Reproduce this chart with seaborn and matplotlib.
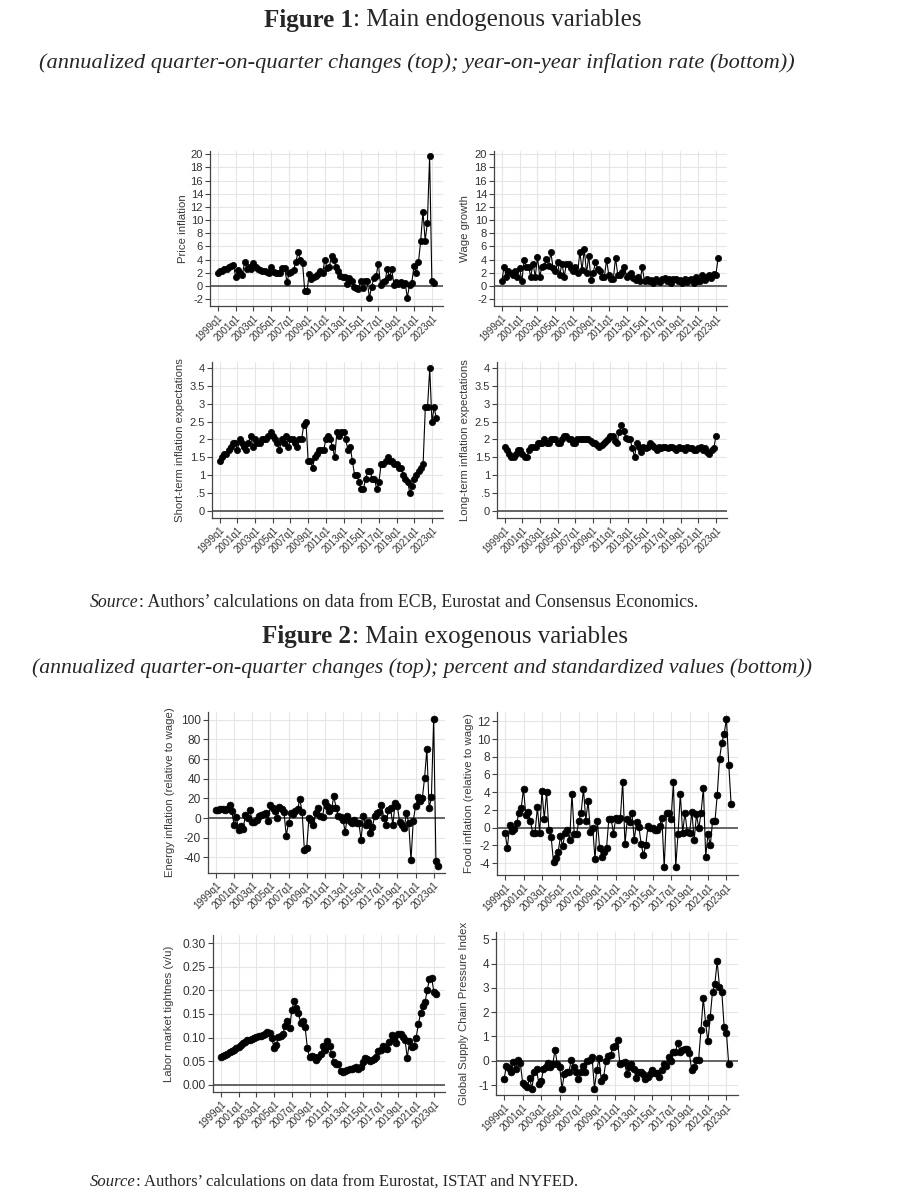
import numpy as np
import pandas as pd
import matplotlib
matplotlib.use("Agg")
import matplotlib.pyplot as plt
import seaborn as sns

# ---------------- data (quarterly, starting 1999q1) ----------------
tick_labels = ["1999q1", "2001q1", "2003q1", "2005q1", "2007q1", "2009q1", "2011q1",
               "2013q1", "2015q1", "2017q1", "2019q1", "2021q1", "2023q1"]

price_inflation = [
    2.0, 2.2, 2.3, 2.5, 2.6, 2.8, 3.0, 3.2,
    1.4, 2.4, 2.0, 1.6, 3.7, 2.6, 2.9, 2.6,
    3.5, 2.9, 2.6, 2.4, 2.3, 2.2, 2.1, 1.9,
    2.8, 2.1, 1.9, 1.9, 2.0, 2.7, 2.7, 0.6,
    1.9, 2.1, 2.4, 3.7, 5.1, 4.0, 3.5, -0.8,
    -0.8, 1.8, 1.0, 1.4, 1.5, 1.8, 2.3, 1.9,
    4.0, 2.7, 2.8, 4.6, 4.0, 2.9, 2.3, 1.5,
    1.4, 1.4, 0.3, 1.2, 0.8, -0.2, -0.3, -0.4,
    0.7, -0.3, 0.8, 0.7, -1.8, -0.1, 1.2, 1.5,
    3.4, 0.1, 0.6, 0.8, 2.5, 1.4, 2.5, 0.2,
    0.6, 0.3, 0.6, 0.2, 0.5, -1.8, 0.2, 0.5,
    3.0, 2.0, 3.6, 6.9, 11.3, 6.9, 9.6, 19.7,
    0.7, 0.4]

wage_growth = [
    0.7, 2.9, 1.4, 2.2, 2.0, 1.7, 2.2, 1.4,
    2.7, 0.7, 4.0, 2.9, 2.9, 1.4, 3.4, 1.4,
    4.4, 1.4, 2.9, 3.1, 4.1, 3.1, 5.1, 2.7,
    2.2, 3.6, 1.7, 3.4, 1.4, 3.4, 3.4, 2.7,
    2.2, 2.9, 1.9, 5.2, 2.4, 5.6, 1.9, 4.6,
    0.9, 2.0, 3.6, 2.6, 2.3, 1.4, 1.4, 4.0,
    1.6, 1.0, 1.0, 4.3, 1.7, 1.6, 2.1, 2.9,
    1.4, 1.6, 1.9, 1.2, 0.9, 1.3, 0.8, 2.8,
    0.7, 1.0, 0.7, 0.9, 0.5, 1.0, 0.8, 0.6,
    1.1, 1.2, 0.8, 1.1, 0.5, 1.0, 1.1, 0.7,
    0.9, 0.4, 1.0, 0.6, 0.9, 1.1, 0.5, 1.3,
    0.8, 0.7, 1.6, 0.9, 1.4, 1.6, 1.2, 1.8,
    1.7, 4.2]

short_term_exp = [
    1.4, 1.5, 1.6, 1.6, 1.7, 1.8, 1.9, 1.9,
    1.7, 2.0, 1.9, 1.8, 1.7, 1.9, 2.1, 1.8,
    2.0, 1.9, 1.9, 2.0, 2.0, 2.0, 2.1, 2.2,
    2.1, 2.0, 1.9, 1.7, 2.0, 1.9, 2.1, 1.8,
    2.0, 2.0, 1.9, 1.8, 2.0, 2.0, 2.4, 2.5,
    1.4, 1.4, 1.2, 1.5, 1.6, 1.7, 1.7, 1.7,
    2.0, 2.1, 2.0, 1.8, 1.5, 2.2, 2.1, 2.2,
    2.2, 2.0, 1.7, 1.8, 1.4, 1.0, 1.0, 0.8,
    0.6, 0.6, 0.9, 1.1, 1.1, 0.9, 0.9, 0.6,
    0.8, 1.3, 1.3, 1.4, 1.5, 1.4, 1.4, 1.3,
    1.3, 1.2, 1.2, 1.0, 0.9, 0.8, 0.5, 0.7,
    0.9, 1.0, 1.1, 1.2, 1.3, 2.9, 2.9, 4.0,
    2.5, 2.9, 2.6]

long_term_exp = [
    1.8, 1.7, 1.6, 1.5, 1.5, 1.6, 1.7, 1.7,
    1.6, 1.5, 1.5, 1.7, 1.8, 1.8, 1.8, 1.9,
    1.9, 1.9, 2.0, 1.9, 1.9, 2.0, 2.0, 2.0,
    1.9, 1.9, 2.0, 2.1, 2.1, 2.0, 2.0, 1.9,
    1.9, 2.0, 2.0, 2.0, 2.0, 2.0, 2.0, 1.95,
    1.9, 1.9, 1.85, 1.8, 1.85, 1.9, 1.95, 2.0,
    2.1, 2.1, 1.95, 1.9, 2.2, 2.4, 2.25, 2.05,
    2.0, 2.0, 1.75, 1.5, 1.9, 1.8, 1.65, 1.8,
    1.75, 1.8, 1.9, 1.85, 1.8, 1.7, 1.8, 1.75,
    1.8, 1.8, 1.75, 1.8, 1.8, 1.75, 1.7, 1.8,
    1.75, 1.75, 1.7, 1.8, 1.75, 1.75, 1.7, 1.7,
    1.75, 1.8, 1.7, 1.75, 1.65, 1.6, 1.7, 1.75,
    2.1]

energy_inflation = [
    8, 8, 9, 9, 8, 9, 13, 7,
    -7, 1, -12, -8, -11, 3, 0, 8,
    -4, -4, -2, 2, 3, 4, 5, -3,
    13, 10, 7, 0, 11, 9, 6, -18,
    -5, 5, 4, 7, 9, 19, 6, -33,
    -31, 0, -2, -7, 5, 10, 2, 1,
    16, 12, 7, 10, 22, 10, 2, 1,
    -2, -14, 2, -3, -5.5, -2, -5.5, -5,
    -22, 2, -7, -4, -15, -9, 2, 5,
    6, 13, 0, -7, 8, 10, -7, 15,
    12, -4, -7, -10, 5, -5, -43, -3,
    12, 21, 17, 20, 41, 70, 10, 21,
    101, -44, -49]

food_inflation = [
    -0.6, -2.3, 0.3, -0.4, -0.2, 0.5, 1.6, 2.2,
    4.4, 1.4, 1.8, 0.7, -0.6, -0.6, 2.3, -0.6,
    4.1, 1.0, 4.0, -0.3, -1.1, -3.9, -3.4, -2.8,
    -1.0, -2.1, -0.6, -0.3, -1.4, 3.8, -0.7, -0.7,
    0.8, 1.7, 4.4, 0.8, 3.0, -0.5, 0.0, -3.6,
    0.8, -2.3, -3.3, -2.8, -2.3, 1.0, 1.0, -0.7,
    1.1, 0.9, 1.1, 5.2, -1.9, 1.0, 0.6, 1.7,
    -1.4, 0.6, 0.1, -1.8, -3.1, -2.0, 0.2, 0.0,
    0.0, -0.3, -0.3, 0.2, 1.1, -4.5, 1.7, 1.7,
    1.0, 5.1, -4.4, -0.7, 3.8, -0.6, 1.7, -0.5,
    -0.6, 1.8, -1.4, 1.5, -0.1, 1.7, 4.5, -3.3,
    -0.7, -2.0, 0.8, 0.7, 3.7, 7.8, 9.6, 10.6,
    12.3, 7.1, 2.7]

labor_tightness = [
    0.060, 0.062, 0.064, 0.066, 0.069, 0.072, 0.074, 0.077,
    0.081, 0.085, 0.088, 0.091, 0.094, 0.096, 0.098, 0.100,
    0.102, 0.104, 0.103, 0.105, 0.108, 0.112, 0.110, 0.100,
    0.077, 0.085, 0.102, 0.103, 0.108, 0.125, 0.135, 0.120,
    0.158, 0.178, 0.162, 0.152, 0.130, 0.135, 0.122, 0.078,
    0.058, 0.062, 0.060, 0.053, 0.058, 0.065, 0.082, 0.073,
    0.093, 0.083, 0.065, 0.048, 0.045, 0.045, 0.030, 0.027,
    0.030, 0.031, 0.033, 0.033, 0.035, 0.037, 0.033, 0.038,
    0.048, 0.057, 0.054, 0.050, 0.052, 0.055, 0.058, 0.072,
    0.073, 0.082, 0.078, 0.075, 0.090, 0.105, 0.098, 0.088,
    0.107, 0.108, 0.102, 0.095, 0.057, 0.092, 0.080, 0.082,
    0.100, 0.128, 0.152, 0.167, 0.175, 0.200, 0.225, 0.226,
    0.196, 0.193]

gscpi = [
    -0.75, -0.2, -0.3, -0.45, -0.05, -0.35, 0.05, -0.1,
    -0.9, -1.0, -1.1, -0.7, -1.15, -0.45, -0.35, -0.95,
    -0.85, -0.35, -0.25, -0.1, -0.25, -0.15, 0.45, -0.15,
    -0.25, -1.15, -0.55, -0.45, -0.45, 0.05, -0.25, -0.45,
    -0.75, -0.45, -0.2, -0.45, 0.0, 0.05, 0.15, -1.15,
    -0.4, 0.1, -0.85, -0.65, 0.0, 0.2, 0.25, 0.55,
    0.6, 0.85, -0.15, -0.1, -0.05, -0.55, -0.25, -0.15,
    -0.35, -0.7, -0.45, -0.45, -0.55, -0.75, -0.65, -0.55,
    -0.4, -0.5, -0.5, -0.65, -0.4, -0.15, -0.2, 0.15,
    0.0, 0.35, 0.35, 0.75, 0.35, 0.45, 0.5, 0.5,
    0.3, -0.4, -0.25, 0.05, 0.05, 1.25, 2.6, 1.55,
    0.8, 1.8, 2.85, 3.15, 4.1, 3.05, 2.85, 1.4,
    1.15, -0.15]

# ---------------- style ----------------
sns.set_theme(style="white")
plt.rcParams['font.family'] = ['Liberation Sans', 'DejaVu Sans']

W, H = 906, 1200
fig = plt.figure(figsize=(W / 100, H / 100), dpi=100)
fig.patch.set_facecolor("white")

tick_pos = [(int(s[:4]) - 1999) * 4 for s in tick_labels]


def rect(l, r, t, b):
    return [l / W, 1 - b / H, (r - l) / W, (b - t) / H]


def panel(box, values, ylabel, ylim, yticks, ytl, label_right, tfs, xfs, ms):
    ax = fig.add_axes(rect(*box))
    df = pd.DataFrame({"quarter": np.arange(len(values)), "value": values})
    ax.grid(True, color="#e6e6e6", lw=0.8, zorder=0)
    ax.axhline(0, color="#5a5a5a", lw=1.3, zorder=1)
    sns.lineplot(data=df, x="quarter", y="value", ax=ax, color="black", lw=0.8,
                 marker="o", markersize=ms, mec="black", mfc="black", mew=0.5,
                 zorder=3)
    ax.set_xlim(-3.5, 101)
    ax.set_ylim(*ylim)
    ax.set_xticks(tick_pos)
    ax.set_xticklabels(tick_labels, rotation=45, ha="right", rotation_mode="anchor",
                       fontsize=xfs, color="#333333")
    ax.set_yticks(yticks)
    ax.set_yticklabels(ytl, fontsize=tfs, color="#333333")
    ax.set_xlabel("")
    ax.set_ylabel(ylabel, fontsize=8.2, color="#3a3a3a")
    l = box[0]
    ax.yaxis.set_label_coords((label_right - l) / (box[1] - l), 0.5)
    for s in ["top", "right"]:
        ax.spines[s].set_visible(False)
    for s in ["left", "bottom"]:
        ax.spines[s].set_color("#444444")
        ax.spines[s].set_linewidth(0.9)
    ax.tick_params(axis="both", direction="out", length=3.5, width=0.8,
                   color="#444444", pad=1.5, left=True, bottom=True)
    ax.set_facecolor("white")
    return ax


int_ticks = list(range(-2, 21, 2))
exp_ticks = [0, 0.5, 1, 1.5, 2, 2.5, 3, 3.5, 4]
exp_tl = ["0", ".5", "1", "1.5", "2", "2.5", "3", "3.5", "4"]

# Figure 1 panels
panel((210, 443, 151, 306), price_inflation, "Price inflation", (-3.05, 20.5),
      int_ticks, [str(v) for v in int_ticks], 188, 8, 6.9, 4.5)
panel((494, 727, 151, 306), wage_growth, "Wage growth", (-3.05, 20.5),
      int_ticks, [str(v) for v in int_ticks], 470, 8, 6.9, 4.5)
panel((212, 443, 362, 518), short_term_exp, "Short-term inflation expectations",
      (-0.21, 4.18), exp_ticks, exp_tl, 185, 8, 6.9, 4.5)
panel((497, 727, 362, 518), long_term_exp, "Long-term inflation expectations",
      (-0.21, 4.18), exp_ticks, exp_tl, 470, 8, 6.9, 4.5)

# Figure 2 panels
en_ticks = list(range(-40, 101, 20))
panel((208, 445, 712, 873), energy_inflation, "Energy inflation (relative to wage)",
      (-56, 108), en_ticks, [str(v) for v in en_ticks], 175, 8.6, 7.3, 4.9)
fd_ticks = list(range(-4, 13, 2))
panel((497, 738, 712, 875), food_inflation, "Food inflation (relative to wage)",
      (-5.35, 13.05), fd_ticks, [str(v) for v in fd_ticks], 474, 8.6, 7.3, 4.9)
lb_ticks = [0.0, 0.05, 0.10, 0.15, 0.20, 0.25, 0.30]
panel((213, 445, 935, 1092), labor_tightness, "Labor market tightnes (v/u)",
      (-0.015, 0.317), lb_ticks, [f"{v:.2f}" for v in lb_ticks], 174, 8.6, 7.3, 4.9)
gs_ticks = list(range(-1, 6))
panel((496, 738, 932, 1095), gscpi, "Global Supply Chain Pressure Index",
      (-1.41, 5.3), gs_ticks, [str(v) for v in gs_ticks], 469, 8.6, 7.3, 4.9)

# ---------------- page texts ----------------
renderer = fig.canvas.get_renderer()
SERIF = ["Liberation Serif", "DejaVu Serif"]


def two_part(a, a_kw, b, b_kw, y, size, cx=None, left=None):
    t1 = fig.text(0, 1 - y / H, a, family=SERIF, size=size, va="center", ha="left", **a_kw)
    t2 = fig.text(0, 1 - y / H, b, family=SERIF, size=size, va="center", ha="left", **b_kw)
    w1 = t1.get_window_extent(renderer).width
    w2 = t2.get_window_extent(renderer).width
    x0 = left if left is not None else cx - (w1 + w2) / 2
    t1.set_x(x0 / W)
    t2.set_x((x0 + w1) / W)


two_part("Figure 1", dict(weight="bold"), ": Main endogenous variables", {}, 20, 18, cx=453)
fig.text(417 / W, 1 - 63 / H,
         "(annualized quarter-on-quarter changes (top); year-on-year inflation rate (bottom))",
         family=SERIF, size=16.1, style="italic", ha="center", va="center")
two_part("Source", dict(style="italic"),
         ": Authors\u2019 calculations on data from ECB, Eurostat and Consensus Economics.",
         {}, 603, 12.8, left=90)

two_part("Figure 2", dict(weight="bold"), ": Main exogenous variables", {}, 637, 18, cx=445)
fig.text(422 / W, 1 - 668 / H,
         "(annualized quarter-on-quarter changes (top); percent and standardized values (bottom))",
         family=SERIF, size=15.7, style="italic", ha="center", va="center")
two_part("Source", dict(style="italic"),
         ": Authors\u2019 calculations on data from Eurostat, ISTAT and NYFED.",
         {}, 1182, 12.0, left=90)

fig.savefig("out.png", dpi=100, facecolor="white")
